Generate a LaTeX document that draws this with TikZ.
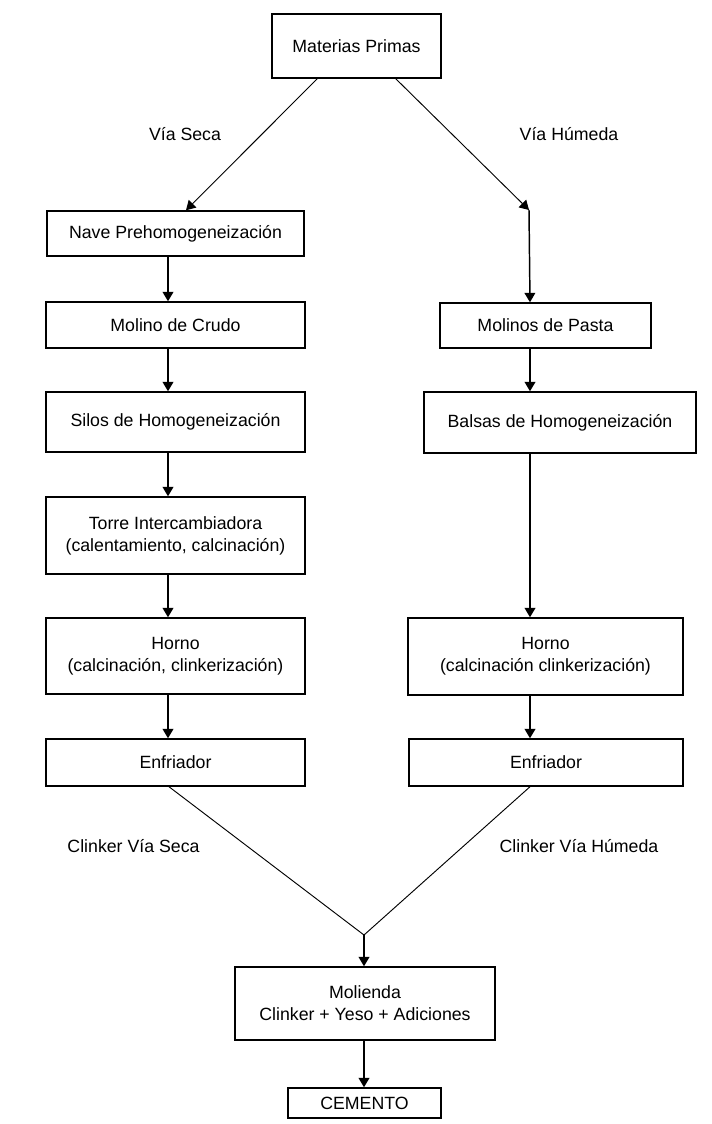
\documentclass[tikz,border=0pt]{standalone}
\usepackage{fontspec}
\setmainfont{Liberation Sans}
\usetikzlibrary{arrows.meta}
\tikzset{
  box/.style={draw,line width=1.1pt,align=center,inner sep=0pt,font=\fontsize{13.3}{16.5}\selectfont},
  lbl/.style={font=\fontsize{13.3}{16.5}\selectfont,inner sep=0pt},
  tip/.style={-{Triangle[width=8pt,length=7pt]}},
  arr/.style={line width=1.1pt,tip},
  diag/.style={line width=.7pt}
}
\begin{document}
\begin{tikzpicture}[x=.75pt,y=-.75pt]
\path[use as bounding box] (0,0) rectangle (712,1124);
\coordinate (colL) at (168,0);
\coordinate (colR) at (530,0);
\node[box,minimum width=126.75pt,minimum height=48pt] (mp) at (356.5,46) {Materias Primas};
\node[box,minimum width=192.75pt,minimum height=33.75pt] (nave) at (175.5,233.5) {Nave Prehomogeneización};
\node[box,minimum width=194.25pt,minimum height=34.5pt] (crudo) at (175.5,325) {Molino de Crudo};
\node[box,minimum width=194.25pt,minimum height=45pt] (silos) at (175.5,422) {Silos de Homogeneización};
\node[box,minimum width=194.25pt,minimum height=57.75pt] (torre) at (175.5,535.5) {Torre Intercambiadora\\(calentamiento, calcinación)};
\node[box,minimum width=194.25pt,minimum height=57pt] (hornoS) at (175.5,656) {Horno\\(calcinación, clinkerización)};
\node[box,minimum width=194.25pt,minimum height=35.25pt] (enfS) at (175.5,762.5) {Enfriador};
\node[box,minimum width=158.25pt,minimum height=33.75pt] (pasta) at (545.5,325.5) {Molinos de Pasta};
\node[box,minimum width=204pt,minimum height=45.75pt] (balsas) at (560,422.5) {Balsas de Homogeneización};
\node[box,minimum width=206.25pt,minimum height=57.75pt] (hornoH) at (545.5,656.5) {Horno\\(calcinación clinkerización)};
\node[box,minimum width=205.5pt,minimum height=35.25pt] (enfH) at (546,762.5) {Enfriador};
\node[box,minimum width=195pt,minimum height=54.75pt] (mol) at (365,1003.5) {Molienda\\Clinker + Yeso + Adiciones};
\node[box,minimum width=114.75pt,minimum height=22.5pt] (cem) at (364.5,1103) {CEMENTO};
\node[lbl] (vs) at (185,134) {Vía Seca};
\node[lbl] (vh) at (569,134) {Vía Húmeda};
\node[lbl] (cvs) at (133.5,846) {Clinker Vía Seca};
\node[lbl] (cvh) at (579,846) {Clinker Vía Húmeda};
\coordinate (mpL) at (318,78);
\coordinate (mpR) at (395,78);
\coordinate (bendR) at (529,210);
\coordinate (join) at (364,935);
\draw[diag,tip] (mpL) -- (nave.north -| 186,0);
\draw[diag,tip] (mpR) -- (bendR);
\draw[arr] (bendR) -- (pasta.north -| colR);
\draw[arr] (nave.south -| colL) -- (crudo.north -| colL);
\draw[arr] (crudo.south -| colL) -- (silos.north -| colL);
\draw[arr] (silos.south -| colL) -- (torre.north -| colL);
\draw[arr] (torre.south -| colL) -- (hornoS.north -| colL);
\draw[arr] (hornoS.south -| colL) -- (enfS.north -| colL);
\draw[arr] (pasta.south -| colR) -- (balsas.north -| colR);
\draw[arr] (balsas.south -| colR) -- (hornoH.north -| colR);
\draw[arr] (hornoH.south -| colR) -- (enfH.north -| colR);
\draw[diag] (enfS.south -| 169,0) -- (join) -- (enfH.south -| colR);
\draw[arr] (join) -- (mol.north -| join);
\draw[arr] (mol.south -| join) -- (cem.north -| join);
\end{tikzpicture}
\end{document}
